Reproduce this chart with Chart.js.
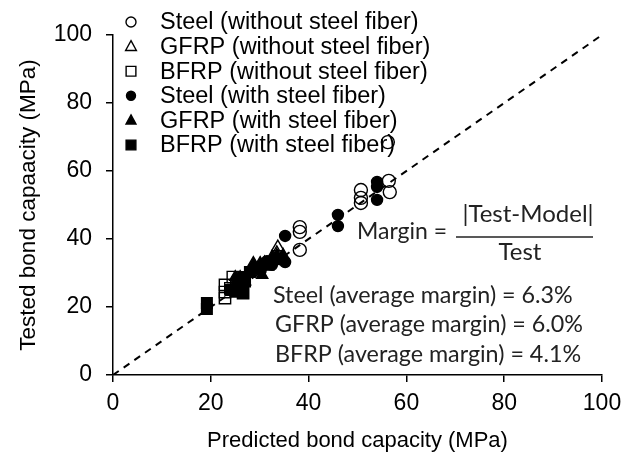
<!DOCTYPE html>
<html>
<head>
<meta charset="utf-8">
<script src="https://cdn.jsdelivr.net/npm/chart.js@4/dist/chart.umd.min.js"></script>
<style>
  html,body{margin:0;padding:0;background:#fff}
  #wrap{position:relative;width:630px;height:454px}
</style>
</head>
<body>
<div id="wrap"><canvas id="c"></canvas></div>
<script>
/* ===== DATA (predicted vs tested bond capacity, MPa) ===== */
const seriesNames=[
  'Steel (without steel fiber)',
  'GFRP (without steel fiber)',
  'BFRP (without steel fiber)',
  'Steel (with steel fiber)',
  'GFRP (with steel fiber)',
  'BFRP (with steel fiber)'
];

const steelNoFiberX=[56.2,56.4,56.6,50.7,50.7,50.7,38.2,38.2,38.2];
const steelNoFiberY=[68.5,57.1,53.8,54.4,52.1,50.6,43.5,42.1,36.8];

const gfrpNoFiberX=[33.7,33.5,33.7,31.0,28.0];
const gfrpNoFiberY=[37.6,35.9,33.8,33.0,30.0];

const bfrpNoFiberX=[22.9,22.9,22.9,24.5,26.6,25.5,24.0];
const bfrpNoFiberY=[26.5,24.4,22.6,28.8,24.1,27.0,25.5];

const steelFiberX=[54.0,54.0,54.0,46.0,46.0,35.2,35.2,34.2,32.5,31.5,30.2];
const steelFiberY=[56.8,55.3,51.5,47.1,43.8,40.9,33.2,34.0,32.4,33.5,30.8];

const gfrpFiberX=[28.7,30.1,32.5,33.5,34.8,28.4,26.0,25.0,31.7,30.5,27.0,29.5];
const gfrpFiberY=[32.9,32.9,34.7,35.3,35.3,30.9,28.8,28.8,31.8,29.4,27.5,31.0];

const bfrpFiberX=[19.2,19.2,25.4,26.6,26.6,28.0,24.0,27.0,25.0];
const bfrpFiberY=[21.2,19.4,27.1,28.8,24.1,30.3,25.0,27.5,24.5];

const lineOfEquality=[{x:0,y:0},{x:100,y:100}];

const statLines=[
  'Steel (average margin) = 6.3%',
  'GFRP (average margin) = 6.0%',
  'BFRP (average margin) = 4.1%'
];

const pts=(xs,ys)=>xs.map((x,i)=>({x,y:ys[i]}));

/* ===== STYLES ===== */
const AX='"Liberation Sans", Arial, sans-serif';
const CAL='Lato, "Open Sans", sans-serif';
const mk=(style,r,filled)=>({
  pointStyle:style,pointRadius:r,pointHoverRadius:r,
  pointBorderColor:'#000',pointBorderWidth:1.4,
  pointBackgroundColor:filled?'#000':'rgba(0,0,0,0)',
  showLine:false
});
const sets=[
  {data:pts(steelNoFiberX,steelNoFiberY),...mk('circle',6.5,false),leg:{s:'circle',r:5,f:false}},
  {data:pts(gfrpNoFiberX,gfrpNoFiberY),...mk('triangle',7,false),leg:{s:'triangle',r:6,f:false}},
  {data:pts(bfrpNoFiberX,bfrpNoFiberY),...mk('rect',8,false),leg:{s:'rect',r:6.5,f:false}},
  {data:pts(steelFiberX,steelFiberY),...mk('circle',5.5,true),leg:{s:'circle',r:4.5,f:true}},
  {data:pts(gfrpFiberX,gfrpFiberY),...mk('triangle',6.5,true),leg:{s:'triangle',r:5.5,f:true}},
  {data:pts(bfrpFiberX,bfrpFiberY),...mk('rect',7.5,true),leg:{s:'rect',r:6.5,f:true}}
];
sets.forEach((d,i)=>d.label=seriesNames[i]);

// legend + formula text drawn straight on the canvas
const overlay={
  id:'overlay',
  afterDraw(chart){
    const ctx=chart.ctx;
    ctx.save();
    // legend
    ctx.font='23.5px '+AX;
    ctx.textBaseline='middle';
    ctx.fillStyle='#000';
    sets.forEach((d,i)=>{
      const y=22+24.6*i,x=131,m=d.leg;
      ctx.beginPath();
      ctx.lineWidth=1.4;ctx.strokeStyle='#000';
      if(m.s==='circle')ctx.arc(x,y,m.r,0,Math.PI*2);
      else if(m.s==='rect')ctx.rect(x-m.r*0.75,y-m.r*0.75,m.r*1.5,m.r*1.5);
      else{ctx.moveTo(x,y-m.r);ctx.lineTo(x+m.r*0.9,y+m.r*0.65);ctx.lineTo(x-m.r*0.9,y+m.r*0.65);ctx.closePath();}
      if(m.f)ctx.fill();ctx.stroke();
      ctx.fillText(seriesNames[i],160,y+1);
    });
    // formula
    ctx.fillStyle='#222';
    ctx.font='23px '+CAL;
    ctx.textAlign='left';
    ctx.fillText('Margin =',357,232);
    ctx.font='24px '+CAL;
    ctx.textAlign='center';
    ctx.fillText('|Test-Model|',528,214);
    ctx.fillText('Test',520,252);
    ctx.beginPath();ctx.lineWidth=1.5;ctx.strokeStyle='#222';
    ctx.moveTo(456,237);ctx.lineTo(593,237);ctx.stroke();
    ctx.font='23.3px '+CAL;
    ctx.textAlign='left';
    statLines.forEach((t,i)=>ctx.fillText(t,i===0?273:275,295+29.5*i));
    ctx.restore();
  }
};

new Chart(document.getElementById('c'),{
  type:'scatter',
  data:{datasets:[
    ...sets,
    {type:'line',data:lineOfEquality,borderColor:'#000',borderWidth:2,borderDash:[7,6],pointRadius:0,fill:false,tension:0}
  ]},
  options:{
    responsive:true,maintainAspectRatio:false,animation:false,devicePixelRatio:1,
    layout:{padding:{left:0,right:28,top:35,bottom:0}},
    plugins:{legend:{display:false},tooltip:{enabled:false}},
    scales:{
      x:{
        type:'linear',min:0,max:100,
        afterFit:s=>{s.height=79;},
        ticks:{stepSize:20,color:'#000',font:{family:AX,size:23},padding:8,maxRotation:0},
        grid:{drawOnChartArea:false,drawTicks:true,tickLength:7,color:'#000',lineWidth:1.5},
        border:{display:true,color:'#000',width:1.5},
        title:{display:true,text:'Predicted bond capacity (MPa)',color:'#000',font:{family:AX,size:22},padding:{top:0,bottom:0}}
      },
      y:{
        type:'linear',min:0,max:100,
        afterFit:s=>{s.width=113;},
        ticks:{stepSize:20,color:'#000',font:{family:AX,size:23},padding:14},
        grid:{drawOnChartArea:false,drawTicks:true,tickLength:7,color:'#000',lineWidth:1.5},
        border:{display:true,color:'#000',width:1.5},
        title:{display:true,text:'Tested bond capaacity (MPa)',color:'#000',font:{family:AX,size:22.5},padding:{top:15,bottom:0}}
      }
    }
  },
  plugins:[overlay]
});
</script>
</body>
</html>
